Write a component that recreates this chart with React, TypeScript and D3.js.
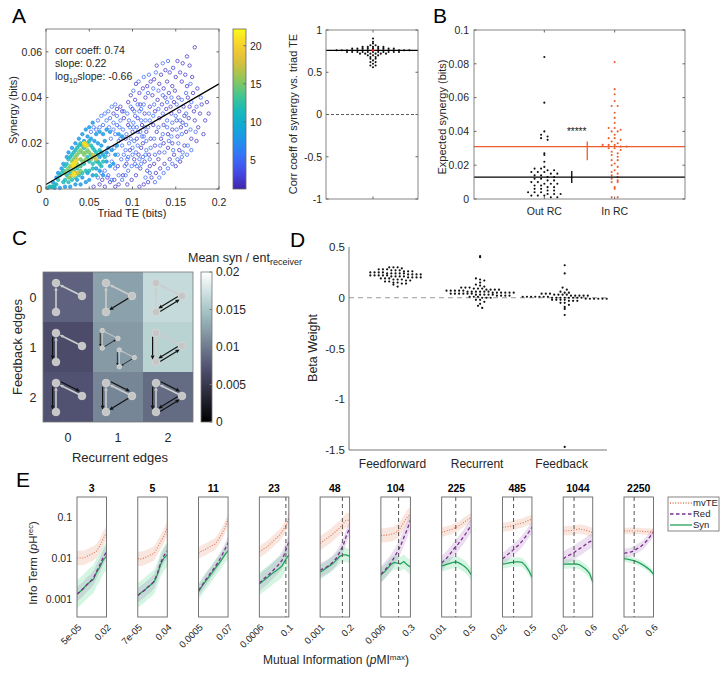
import React from 'react';
import * as d3 from 'd3';

const FONT = "'Liberation Sans', Arial, Helvetica, sans-serif";
const INK = '#262626';
const AXIS = '#666666';

// ---------------- Panel A : scatter (values x1000: [triad TE, synergy]) ----------------
const triadTeTicks = [0, 0.05, 0.1, 0.15, 0.2];
const synergyTicks = [0, 0.02, 0.04, 0.06];
const densityTicks = [5, 10, 15, 20];
const densityLevels = [2.2, 5.2, 8, 11.5, 15, 18, 21];
const scatterD1 = [[172,62],[163,58],[158,55],[166,54],[152,56],[147,53],[155,51],[161,50],[169,49],[143,51],[150,49],[138,52],[133,50],[128,54],[125,48],[131,46],[140,47],[146,45],[157,47],[163,45],[175,44],[180,37],[186,38],[178,33],[184,30],[171,34],[165,31],[159,36],[153,40],[148,38],[142,42],[136,44],[121,47],[117,45],[112,44],[108,42],[104,46],[115,40],[123,41],[129,39],[134,37],[139,35],[145,33],[151,30],[156,27],[162,25],[168,22],[174,21],[160,19],[154,17],[148,15],[143,13],[137,11],[132,9],[127,7],[122,5],[118,3],[113,2],[108,1],[155,12],[150,10],[146,20],[141,24],[136,28],[131,31],[126,34],[120,36],[114,33],[109,37],[103,39],[98,41],[95,38],[100,35],[106,31],[111,28],[116,25],[121,22],[126,19],[131,16],[136,20],[141,18],[146,26],[152,23],[158,29],[164,40],[170,42],[176,27],[182,24],[188,33],[124,28],[119,15],[114,12],[109,9],[104,6],[99,4],[94,2],[110,18],[105,22],[100,25],[95,28],[90,31],[92,22],[97,17],[102,13],[107,15],[112,20],[117,8],[128,25],[133,22],[138,40],[144,36],[149,43],[154,34],[160,32],[166,36],[172,30],[130,13],[125,11],[120,10],[86,36],[88,34],[82,35],[78,33],[84,2],[89,6],[93,11],[83,10],[79,4],[55,1],[62,2],[68,1],[74,3],[80,1],[71,5],[65,4]];
const scatterD2 = [[101,43],[107,47],[113,49],[119,50],[127,51],[135,55],[141,56],[118,42],[124,44],[130,43],[135,41],[140,38],[145,40],[151,37],[157,39],[162,42],[167,46],[103,32],[108,34],[113,37],[119,33],[125,37],[130,35],[135,33],[140,30],[146,29],[151,26],[157,24],[162,28],[167,26],[173,25],[96,30],[101,27],[106,25],[111,23],[116,21],[121,18],[126,15],[132,19],[137,16],[142,21],[147,17],[153,20],[158,16],[164,19],[168,17],[115,5],[120,7],[126,3],[131,5],[136,7],[141,9],[146,11],[152,13],[157,14],[163,15],[95,14],[100,15],[105,10],[110,11],[115,15],[120,13],[125,22],[130,27],[135,24],[140,27],[145,23],[150,32],[155,30],[162,33],[168,38],[174,36],[179,40],[60,30],[64,32],[68,33],[72,34],[76,36],[80,37],[70,30],[74,31],[78,29],[82,32],[86,30],[90,34],[94,33],[98,36],[102,34],[106,37],[110,35],[85,27],[89,26],[93,24],[97,27],[101,29],[105,27],[109,25],[113,23],[80,24],[84,21],[88,19],[92,17],[96,20],[100,18],[104,16],[108,13],[112,14],[116,17],[75,22],[79,18],[83,15],[87,13],[91,10],[95,8],[99,10],[103,11],[72,15],[76,12],[80,9],[84,6],[88,4],[92,6],[58,26],[62,27],[66,28],[55,27],[52,25],[68,8],[72,6],[76,4],[64,7],[60,5],[120,30],[118,27],[115,30],[124,32],[90,15],[86,22],[78,26],[73,27],[82,28],[94,13],[98,22],[102,21],[106,19],[110,30],[114,27]];
const scatterD3 = [[30,18],[34,20],[38,22],[42,24],[46,26],[50,27],[54,29],[58,24],[62,25],[66,24],[70,26],[74,25],[44,21],[48,23],[52,22],[56,21],[60,20],[64,19],[68,21],[72,18],[76,17],[80,15],[66,15],[62,14],[70,12],[74,10],[78,11],[58,9],[62,8],[66,6],[54,6],[50,4],[46,3],[40,2],[34,2],[28,1],[22,1],[16,0.5],[10,0.5],[6,1],[8,3],[12,5],[14,7],[18,9],[20,11],[24,14],[26,16],[36,4],[42,5],[48,7],[70,16],[82,19],[84,24],[88,23]];
const scatterD4 = [[14,4],[16,6],[18,7],[20,8],[22,10],[24,11],[26,13],[28,14],[30,15],[32,16],[34,17],[36,18],[38,19],[40,20],[42,19],[44,18],[46,19],[48,20],[50,21],[52,19],[54,18],[56,17],[58,16],[60,15],[62,17],[64,16],[66,12],[68,14],[50,12],[54,11],[58,12],[62,11],[46,8],[50,8],[54,9],[58,6],[42,7],[38,6],[34,5],[30,4],[26,3],[22,4],[20,3],[24,6],[28,7],[32,8],[36,9],[40,10],[44,11],[48,14],[52,15],[56,14],[60,12],[64,10],[12,2],[10,2],[8,1],[4,1],[2,0.5]];
const scatterD5 = [[22,7],[24,8],[26,9],[28,10],[30,12],[32,13],[34,14],[36,15],[38,16],[40,17],[42,16],[44,15],[46,16],[48,17],[50,16],[40,13],[42,12],[44,12],[46,13],[36,11],[38,10],[32,9],[34,10],[30,8],[26,5],[28,5],[38,7],[40,8],[52,13],[54,14]];
const scatterD6 = [[30,10],[32,11],[34,12],[36,13],[44,19],[46,20],[48,19],[54,15],[56,14],[58,13],[34,7],[36,7],[30,6]];
const scatterD7 = [[31,11],[33,11],[32,10],[34,12],[44,20],[46,19],[32,7],[33,6]];
const regressionSlope = 0.22;
const regressionIntercept = 0.002;

// ---------------- Panel A right ----------------
const corrTicks = [1, 0.5, 0, -0.5, -1];
const corrCoeffs = [0.90,0.86,0.84,0.82,0.82,0.80,0.80,0.80,0.80,0.80,0.78,0.78,0.78,0.78,0.78,0.78,0.78,0.78,0.78,0.76,0.76,0.76,0.76,0.76,0.76,0.76,0.76,0.76,0.76,0.76,0.76,0.76,0.76,0.76,0.74,0.74,0.74,0.74,0.74,0.74,0.74,0.74,0.74,0.74,0.74,0.72,0.72,0.72,0.72,0.72,0.72,0.70,0.70,0.70,0.68,0.68,0.66,0.66,0.64,0.62,0.62,0.60,0.58,0.58,0.56];
const corrMean = 0.76;

// ---------------- Panel B ----------------
const bCategories = ['Out RC', 'In RC'];
const bTicks = [0, 0.02, 0.04, 0.06, 0.08, 0.1];
const outRC = [0.084,0.057,0.040,0.038,0.037,0.036,0.035,0.027,0.026,0.022,0.019,0.018,0.018,0.017,0.017,0.016,0.016,0.016,0.015,0.015,0.014,0.014,0.013,0.013,0.012,0.012,0.011,0.011,0.010,0.010,0.009,0.009,0.009,0.008,0.008,0.007,0.007,0.006,0.006,0.005,0.005,0.004,0.004,0.004,0.003,0.003,0.003,0.002,0.002,0.002,0.001,0.001];
const inRC = [0.081,0.065,0.062,0.058,0.055,0.055,0.051,0.048,0.045,0.042,0.042,0.041,0.040,0.040,0.038,0.036,0.036,0.035,0.034,0.033,0.032,0.032,0.032,0.031,0.031,0.030,0.030,0.029,0.028,0.027,0.026,0.025,0.023,0.023,0.021,0.020,0.019,0.017,0.016,0.015,0.014,0.013,0.012,0.011,0.010,0.010,0.007,0.006,0.001,0.001];
const outRCMean = 0.013;
const inRCMean = 0.031;
const outRCErr = [0.0095, 0.0165];
const inRCErr = [0.023, 0.034];
const sigStars = '*****';
const sigLevel = 0.041;

// ---------------- Panel C ----------------
const edgeCounts = [0, 1, 2];
const meanSynRatio = [
  [0.0084, 0.0125, 0.0167],
  [0.0068, 0.0120, 0.0160],
  [0.0073, 0.0107, 0.0090],
];
const ratioTicks = [0, 0.005, 0.01, 0.015, 0.02];

// ---------------- Panel D ----------------
const dCategories = ['Feedforward', 'Recurrent', 'Feedback'];
const betaTicks = [0.5, 0, -0.5, -1, -1.5];
const betaFF = [0.30,0.30,0.30,0.29,0.28,0.28,0.28,0.27,0.27,0.27,0.26,0.26,0.26,0.25,0.25,0.25,0.25,0.24,0.24,0.24,0.24,0.24,0.23,0.23,0.23,0.23,0.22,0.22,0.22,0.22,0.22,0.21,0.21,0.21,0.21,0.20,0.20,0.20,0.20,0.19,0.19,0.19,0.18,0.18,0.18,0.17,0.17,0.16,0.16,0.15,0.15,0.14,0.14,0.13,0.11];
const betaRec = [0.41,0.40,0.19,0.18,0.17,0.15,0.13,0.12,0.11,0.10,0.10,0.10,0.09,0.09,0.09,0.08,0.08,0.08,0.08,0.07,0.07,0.07,0.07,0.07,0.06,0.06,0.06,0.06,0.06,0.06,0.05,0.05,0.05,0.05,0.05,0.05,0.04,0.04,0.04,0.04,0.04,0.04,0.03,0.03,0.03,0.03,0.03,0.02,0.02,0.02,0.02,0.01,0.01,0.01,0.00,0.00,0.00,-0.02,-0.02,-0.04,-0.06,-0.08,-0.10];
const betaFB = [0.32,0.24,0.10,0.08,0.06,0.05,0.05,0.04,0.04,0.04,0.03,0.03,0.03,0.03,0.02,0.02,0.02,0.02,0.02,0.01,0.01,0.01,0.01,0.01,0.01,0.01,0.00,0.00,0.00,0.00,0.00,0.00,0.00,0.00,-0.01,-0.01,-0.01,-0.01,-0.01,-0.01,-0.02,-0.02,-0.02,-0.02,-0.03,-0.03,-0.03,-0.05,-0.05,-0.07,-0.09,-0.11,-0.17,-1.47];

// ---------------- Panel E ----------------
const eNeurons = ['3', '5', '11', '23', '48', '104', '225', '485', '1044', '2250'];
const eTickLo = ['5e-05', '7e-05', '0.0005', '0.0006', '0.001', '0.006', '0.01', '0.02', '0.02', '0.02'];
const eTickHi = ['0.02', '0.04', '0.07', '0.1', '0.2', '0.3', '0.5', '0.5', '0.6', '0.6'];
const eDashPos = [null, null, null, 8.1, 6.8, 5.4, 4.3, 3.4, 3.3, 3.1];
const eYTicks = [0.1, 0.01, 0.001];
const mvTE = [
  [0.010,0.010,0.010,0.011,0.012,0.013,0.015,0.020,0.030,0.042],
  [0.0095,0.0095,0.010,0.011,0.012,0.013,0.018,0.025,0.035,0.055],
  [0.013,0.015,0.016,0.018,0.020,0.022,0.028,0.038,0.055,0.090],
  [0.014,0.016,0.018,0.021,0.025,0.030,0.035,0.045,0.060,0.095],
  [0.023,0.026,0.030,0.034,0.040,0.047,0.055,0.070,0.085,0.085],
  [0.036,0.036,0.037,0.038,0.040,0.045,0.055,0.075,0.100,0.120],
  [0.043,0.045,0.048,0.050,0.055,0.060,0.068,0.078,0.088,0.100],
  [0.057,0.058,0.060,0.062,0.066,0.070,0.072,0.078,0.084,0.090],
  [0.046,0.047,0.047,0.048,0.050,0.052,0.050,0.048,0.045,0.042],
  [0.046,0.046,0.047,0.046,0.046,0.046,0.045,0.045,0.044,0.044],
];
const redTerm = [
  [0.0013,0.0015,0.0018,0.0022,0.0026,0.0032,0.0047,0.0068,0.0105,0.0140],
  [0.0012,0.0014,0.0016,0.0019,0.0022,0.0027,0.0042,0.0078,0.0115,0.0150],
  [0.0016,0.0021,0.0028,0.0036,0.0047,0.0060,0.0080,0.0110,0.0160,0.0240],
  [0.0024,0.0029,0.0034,0.0040,0.0048,0.0058,0.0070,0.0090,0.0150,0.0250],
  [0.0050,0.0055,0.0060,0.0068,0.0080,0.0100,0.0140,0.0200,0.0350,0.0550],
  [0.0040,0.0048,0.0060,0.0075,0.0100,0.0140,0.0200,0.0320,0.0500,0.0850],
  [0.0075,0.0090,0.0110,0.0140,0.0180,0.0220,0.0280,0.0360,0.0480,0.0640],
  [0.0095,0.0110,0.0130,0.0150,0.0180,0.0210,0.0260,0.0330,0.0430,0.0570],
  [0.0095,0.0110,0.0120,0.0130,0.0150,0.0170,0.0190,0.0220,0.0250,0.0270],
  [0.0130,0.0135,0.0140,0.0150,0.0170,0.0190,0.0220,0.0270,0.0340,0.0430],
];
const synTerm = [
  [0.0013,0.0015,0.0018,0.0022,0.0026,0.0030,0.0045,0.0060,0.0090,0.0110],
  [0.0012,0.0014,0.0016,0.0019,0.0022,0.0026,0.0040,0.0070,0.0100,0.0120],
  [0.0015,0.0020,0.0026,0.0033,0.0042,0.0055,0.0070,0.0090,0.0120,0.0150],
  [0.0023,0.0027,0.0031,0.0036,0.0042,0.0048,0.0055,0.0065,0.0090,0.0120],
  [0.0045,0.0050,0.0058,0.0065,0.0075,0.0090,0.0110,0.0120,0.0120,0.0110],
  [0.0038,0.0045,0.0055,0.0068,0.0078,0.0075,0.0072,0.0082,0.0068,0.0060],
  [0.0064,0.0068,0.0072,0.0076,0.0080,0.0078,0.0070,0.0062,0.0052,0.0039],
  [0.0071,0.0073,0.0076,0.0078,0.0080,0.0080,0.0078,0.0065,0.0050,0.0034],
  [0.0071,0.0071,0.0072,0.0071,0.0072,0.0068,0.0060,0.0052,0.0042,0.0026],
  [0.0097,0.0094,0.0090,0.0086,0.0080,0.0074,0.0066,0.0058,0.0050,0.0040],
];
const mvTEBand = [1.5, 1.5, 1.4, 1.4, 1.5, 1.5, 1.3, 1.3, 1.3, 1.2];
const redBand = [1.5, 1.5, 1.4, 1.6, 1.5, 1.6, 1.5, 1.4, 1.5, 1.3];
const synBand = [2.2, 2.0, 1.6, 1.9, 1.5, 1.5, 1.4, 1.3, 1.3, 1.2];
const eLegend = ['mvTE', 'Red', 'Syn'];

// ---------------- colour maps ----------------
const parulaStops = ['#3e26a8', '#4747ea', '#3b6efe', '#1e92eb', '#0fabd5', '#14bbb5', '#50c88a', '#99c84e', '#e0bc3c', '#fcce2e', '#f9fb15'];
const parula = d3.scaleSequential(d3.interpolateRgbBasis(parulaStops)).domain([1.2, 22.2]);
const boneR = d3.scaleLinear().domain([0, 0.746032, 1]).range([0, 0.652778, 1]);
const boneG = d3.scaleLinear().domain([0, 0.365079, 0.746032, 1]).range([0, 0.319444, 0.777778, 1]);
const boneB = d3.scaleLinear().domain([0, 0.365079, 1]).range([0, 0.444444, 1]);
const bone = (t: number) => d3.rgb(boneR(t) * 255, boneG(t) * 255, boneB(t) * 255).formatHex();

function spread(values: number[], binW: number, step: number) {
  const groups = d3.groups(values, (v) => Math.round(v / binW));
  const out: { v: number; off: number }[] = [];
  groups.forEach(([, arr]) => {
    const n = arr.length;
    arr.forEach((v, j) => out.push({ v, off: (j - (n - 1) / 2) * step }));
  });
  return out;
}

function Arrow({ a, b, color, w, head, s1, s2 }: any) {
  const dx = b[0] - a[0], dy = b[1] - a[1];
  const L = Math.hypot(dx, dy);
  const ux = dx / L, uy = dy / L;
  const sx = a[0] + ux * s1, sy = a[1] + uy * s1;
  const ex = b[0] - ux * s2, ey = b[1] - uy * s2;
  const bx = ex - ux * head, by = ey - uy * head;
  const hw = head * 0.45;
  return (
    <g>
      <line x1={sx} y1={sy} x2={bx} y2={by} stroke={color} strokeWidth={w} />
      <polygon points={`${ex},${ey} ${bx - uy * hw},${by + ux * hw} ${bx + uy * hw},${by - ux * hw}`} fill={color} />
    </g>
  );
}

function Triad({ ox, oy, s, fb, rec, rev }: any) {
  const T = [ox + 13 * s, oy + 11 * s];
  const B = [ox + 13 * s, oy + 40 * s];
  const R = [ox + 39 * s, oy + 24 * s];
  const gray = '#cdcdcd';
  const blk = '#111';
  const nr = 3.8 * s;
  const off = (p: number[], q: number[], d: number) => {
    const dx = q[0] - p[0], dy = q[1] - p[1];
    const L = Math.hypot(dx, dy);
    const px = -dy / L * d, py = dx / L * d;
    return [[p[0] + px, p[1] + py], [q[0] + px, q[1] + py]];
  };
  const items: any[] = [];
  items.push(<Arrow key="g1" a={R} b={T} color={gray} w={1.6 * s} head={4 * s} s1={nr} s2={nr} />);
  items.push(<Arrow key="g2" a={B} b={T} color={gray} w={1.6 * s} head={4 * s} s1={nr} s2={nr} />);
  if (fb >= 1) {
    const [p, q] = off(T, B, 3.4 * s);
    items.push(<Arrow key="f1" a={p} b={q} color={blk} w={1.0 * s + 0.2} head={4.2 * s} s1={nr} s2={nr * 0.6} />);
  }
  if (fb >= 2) {
    const [p, q] = off(T, R, -3.2 * s);
    items.push(<Arrow key="f2" a={p} b={q} color={blk} w={1.0 * s + 0.2} head={4.2 * s} s1={nr} s2={nr} />);
  }
  if (rec === 1) {
    if (rev) items.push(<Arrow key="r1" a={B} b={R} color={blk} w={1.0 * s + 0.2} head={4.2 * s} s1={nr} s2={nr} />);
    else items.push(<Arrow key="r1" a={R} b={B} color={blk} w={1.0 * s + 0.2} head={4.2 * s} s1={nr} s2={nr} />);
  }
  if (rec === 2) {
    const [p1, q1] = off(R, B, 1.8 * s);
    const [p2, q2] = off(B, R, 1.8 * s);
    items.push(<Arrow key="r1" a={p1} b={q1} color={blk} w={0.9 * s + 0.2} head={4.2 * s} s1={nr} s2={nr} />);
    items.push(<Arrow key="r2" a={p2} b={q2} color={blk} w={0.9 * s + 0.2} head={4.2 * s} s1={nr} s2={nr} />);
  }
  [T, B, R].forEach((p, i) => items.push(<circle key={'n' + i} cx={p[0]} cy={p[1]} r={nr} fill="#c6c6c6" stroke="#d8d8d8" strokeWidth={0.8} />));
  return <g>{items}</g>;
}

export default function App() {
  // ---------- Panel A ----------
  const ax = d3.scaleLinear().domain([0, 0.2]).range([46, 219]);
  const ay = d3.scaleLinear().domain([0, 0.07]).range([189, 29]);
  const scatterGroups = [scatterD1, scatterD2, scatterD3, scatterD4, scatterD5, scatterD6, scatterD7];

  const arx = 373;
  const ary = d3.scaleLinear().domain([-1, 1]).range([199, 30]);
  const corrPts = spread(corrCoeffs, 0.02, 5.2);

  // ---------- Panel B ----------
  const bx = d3.scaleLinear().domain([0, 3]).range([474, 685]);
  const by = d3.scaleLinear().domain([0, 0.1]).range([199, 30]);
  const outPts = spread(outRC, 0.002, 6.5);
  const inPts = spread(inRC, 0.002, 6);
  const orange = '#ec5b2b';

  // ---------- Panel C ----------
  const cx = d3.scaleBand<number>().domain(edgeCounts).range([43, 193]);
  const cy = d3.scaleBand<number>().domain(edgeCounts).range([272, 422]);
  const cbar = d3.scaleLinear().domain([0, 0.02]).range([422, 272]);

  // ---------- Panel D ----------
  const dx = d3.scaleLinear().domain([0.45, 3.5]).range([349, 607]);
  const dy = d3.scaleLinear().domain([-1.5, 0.5]).range([450, 247]);
  const dGroups = [betaFF, betaRec, betaFB].map((g) => spread(g, 0.03, 4.2));

  // ---------- Panel E ----------
  const eLeft = d3.scaleLinear().domain([0, 9]).range([77, 624]);
  const eW = 29.5;
  const ey = d3.scaleLog().domain([Math.pow(10, -3.45), Math.pow(10, -0.5)]).range([617, 497]);
  const eColors = { mv: '#e0734f', red: '#7e2f8e', syn: '#21a35a' };

  const tickLen = 2.5;

  return (
    <svg width={722} height={673} style={{ position: 'absolute', left: 0, top: 0, fontFamily: FONT }}>
      <defs>
        <linearGradient id="parulaGrad" x1="0" y1="1" x2="0" y2="0">
          {d3.range(0, 1.0001, 0.05).map((t) => (
            <stop key={t} offset={t} stopColor={parula(1.2 + t * 21)} />
          ))}
        </linearGradient>
        <linearGradient id="boneGrad" x1="0" y1="1" x2="0" y2="0">
          {d3.range(0, 1.0001, 0.05).map((t) => (
            <stop key={t} offset={t} stopColor={bone(t)} />
          ))}
        </linearGradient>
        {eNeurons.map((_, i) => (
          <clipPath id={'eclip' + i} key={i}>
            <rect x={eLeft(i)} y={497} width={eW} height={120} />
          </clipPath>
        ))}
      </defs>
      <rect x={0} y={0} width={722} height={673} fill="#fff" />

      {/* ================= Panel A ================= */}
      <text x={12} y={23} fontSize={21} fill="#000">A</text>
      {scatterGroups.map((g, gi) =>
        g.map((p, i) => {
          const c = parula(densityLevels[gi]);
          return (
            <circle key={gi + '-' + i} cx={ax(p[0] / 1000)} cy={ay(p[1] / 1000)} r={1.7}
              fill={gi >= 2 ? c : 'none'} fillOpacity={gi >= 2 ? 0.8 : 0} stroke={c} strokeWidth={0.75} />
          );
        })
      )}
      <line x1={ax(0)} y1={ay(regressionIntercept)} x2={ax(0.2)} y2={ay(regressionIntercept + regressionSlope * 0.2)} stroke="#000" strokeWidth={1.2} />
      <rect x={46} y={29} width={173} height={160} fill="none" stroke={AXIS} strokeWidth={0.8} />
      {triadTeTicks.map((t) => (
        <g key={'ax' + t}>
          <line x1={ax(t)} x2={ax(t)} y1={189} y2={189 - tickLen} stroke={AXIS} />
          <line x1={ax(t)} x2={ax(t)} y1={29} y2={29 + tickLen} stroke={AXIS} />
          <text x={ax(t)} y={206} fontSize={10.5} fill={INK} textAnchor="middle">{t}</text>
        </g>
      ))}
      {synergyTicks.map((t) => (
        <g key={'ay' + t}>
          <line x1={46} x2={46 + tickLen} y1={ay(t)} y2={ay(t)} stroke={AXIS} />
          <line x1={219} x2={219 - tickLen} y1={ay(t)} y2={ay(t)} stroke={AXIS} />
          <text x={42} y={ay(t) + 3.8} fontSize={10.5} fill={INK} textAnchor="end">{t}</text>
        </g>
      ))}
      <text x={132} y={217} fontSize={11} fill={INK} textAnchor="middle">Triad TE (bits)</text>
      <text transform="translate(17,110) rotate(-90)" fontSize={11} fill={INK} textAnchor="middle">Synergy (bits)</text>
      <text x={55} y={54} fontSize={10.5} fill={INK}>corr coeff: 0.74</text>
      <text x={55} y={67} fontSize={10.5} fill={INK}>slope: 0.22</text>
      <text x={55} y={80} fontSize={10.5} fill={INK}>log<tspan dy={3} fontSize={7.5}>10</tspan><tspan dy={-3}>slope: -0.66</tspan></text>
      {/* colorbar */}
      <rect x={233} y={29} width={13} height={160} fill="url(#parulaGrad)" stroke={AXIS} strokeWidth={0.8} />
      {densityTicks.map((t) => {
        const yy = 189 - ((t - 1.2) / 21) * 160;
        return (
          <g key={'cb' + t}>
            <line x1={246} x2={243.5} y1={yy} y2={yy} stroke={AXIS} />
            <text x={250} y={yy + 3.8} fontSize={10.5} fill={INK}>{t}</text>
          </g>
        );
      })}

      {/* ================= Panel A right ================= */}
      <line x1={326} x2={418} y1={ary(0)} y2={ary(0)} stroke="#333" strokeDasharray="3,2" strokeWidth={0.8} />
      {corrPts.map((p, i) => (
        <circle key={'cc' + i} cx={arx + p.off} cy={ary(p.v)} r={1.05} fill="#111" />
      ))}
      <line x1={326} x2={418} y1={ary(corrMean)} y2={ary(corrMean)} stroke="#000" strokeWidth={1.3} />
      <circle cx={arx} cy={ary(corrMean)} r={1.4} fill="#e02020" />
      <rect x={326} y={30} width={92} height={169} fill="none" stroke={AXIS} strokeWidth={0.8} />
      <line x1={arx} x2={arx} y1={199} y2={199 - tickLen} stroke={AXIS} />
      <line x1={arx} x2={arx} y1={30} y2={30 + tickLen} stroke={AXIS} />
      {corrTicks.map((t) => (
        <g key={'ct' + t}>
          <line x1={326} x2={326 + tickLen} y1={ary(t)} y2={ary(t)} stroke={AXIS} />
          <line x1={418} x2={418 - tickLen} y1={ary(t)} y2={ary(t)} stroke={AXIS} />
          <text x={322} y={ary(t) + 3.8} fontSize={10.5} fill={INK} textAnchor="end">{t}</text>
        </g>
      ))}
      <text transform="translate(297,114) rotate(-90)" fontSize={11} fill={INK} textAnchor="middle">Corr coeff of synergy vs. triad TE</text>

      {/* ================= Panel B ================= */}
      <text x={433} y={23} fontSize={21} fill="#000">B</text>
      {outPts.map((p, i) => (
        <circle key={'o' + i} cx={bx(1) + p.off} cy={by(p.v)} r={1.05} fill="#111" />
      ))}
      {inPts.map((p, i) => (
        <circle key={'i' + i} cx={bx(2) + p.off} cy={by(p.v)} r={1.05} fill={orange} />
      ))}
      <line x1={474} x2={685} y1={by(outRCMean)} y2={by(outRCMean)} stroke="#000" strokeWidth={1.3} />
      <line x1={474} x2={685} y1={by(inRCMean)} y2={by(inRCMean)} stroke={orange} strokeWidth={1.3} />
      <line x1={bx(1.39)} x2={bx(1.39)} y1={by(outRCErr[0])} y2={by(outRCErr[1])} stroke="#000" strokeWidth={1.3} />
      <line x1={bx(1.61)} x2={bx(1.61)} y1={by(inRCErr[0])} y2={by(inRCErr[1])} stroke={orange} strokeWidth={1.3} />
      <text x={bx(1.46)} y={by(sigLevel) + 5} fontSize={10} fill="#111" textAnchor="middle">{sigStars}</text>
      <rect x={474} y={30} width={211} height={169} fill="none" stroke={AXIS} strokeWidth={0.8} />
      {[1, 2].map((c) => (
        <g key={'bxt' + c}>
          <line x1={bx(c)} x2={bx(c)} y1={199} y2={199 - tickLen} stroke={AXIS} />
          <line x1={bx(c)} x2={bx(c)} y1={30} y2={30 + tickLen} stroke={AXIS} />
          <text x={bx(c)} y={215} fontSize={10.5} fill={INK} textAnchor="middle">{bCategories[c - 1]}</text>
        </g>
      ))}
      {bTicks.map((t) => (
        <g key={'bt' + t}>
          <line x1={474} x2={474 + tickLen} y1={by(t)} y2={by(t)} stroke={AXIS} />
          <line x1={685} x2={685 - tickLen} y1={by(t)} y2={by(t)} stroke={AXIS} />
          <text x={469} y={by(t) + 3.8} fontSize={10.5} fill={INK} textAnchor="end">{t}</text>
        </g>
      ))}
      <text transform="translate(446,117) rotate(-90)" fontSize={11} fill={INK} textAnchor="middle">Expected synergy (bits)</text>

      {/* ================= Panel C ================= */}
      <text x={12} y={245} fontSize={21} fill="#000">C</text>
      {meanSynRatio.map((row, r) =>
        row.map((v, c) => (
          <rect key={'cell' + r + c} x={cx(c)} y={cy(r)} width={cx.bandwidth()} height={cy.bandwidth()} fill={bone(v / 0.02)} />
        ))
      )}
      {edgeCounts.map((fb) =>
        edgeCounts.map((rec) => {
          const ox = cx(rec)!, oy = cy(fb)!;
          if (fb === 1 && rec === 1) {
            return (
              <g key={'tr' + fb + rec}>
                <Triad ox={ox + 1.5} oy={oy + 2} s={0.6} fb={1} rec={1} rev={true} />
                <Triad ox={ox + 18.8} oy={oy + 21.6} s={0.58} fb={1} rec={1} rev={false} />
              </g>
            );
          }
          return <Triad key={'tr' + fb + rec} ox={ox} oy={oy} s={1} fb={fb} rec={rec} rev={false} />;
        })
      )}
      <rect x={43} y={272} width={150} height={150} fill="none" stroke="#777" strokeWidth={0.8} />
      {edgeCounts.map((e) => (
        <g key={'cl' + e}>
          <text x={33} y={cy(e)! + 25 + 4.5} fontSize={12.5} fill={INK} textAnchor="middle">{e}</text>
          <text x={cx(e)! + 25} y={442} fontSize={12.5} fill={INK} textAnchor="middle">{e}</text>
        </g>
      ))}
      <text transform="translate(22,347) rotate(-90)" fontSize={13} fill={INK} textAnchor="middle">Feedback edges</text>
      <text x={120} y={462} fontSize={13} fill={INK} textAnchor="middle">Recurrent edges</text>
      <rect x={201} y={272} width={11} height={150} fill="url(#boneGrad)" stroke="#777" strokeWidth={0.8} />
      {ratioTicks.map((t) => (
        <g key={'rt' + t}>
          <line x1={212} x2={209.5} y1={cbar(t)} y2={cbar(t)} stroke="#777" />
          <text x={216} y={cbar(t) + 4.3} fontSize={12} fill={INK}>{t}</text>
        </g>
      ))}
      <text x={188} y={262} fontSize={12.5} fill={INK}>Mean syn / ent<tspan dy={3} fontSize={9}>receiver</tspan></text>

      {/* ================= Panel D ================= */}
      <text x={290} y={247} fontSize={21} fill="#000">D</text>
      <line x1={349} x2={607} y1={dy(0)} y2={dy(0)} stroke="#999" strokeWidth={1.2} strokeDasharray="5,4" />
      {dGroups.map((g, gi) =>
        g.map((p, i) => (
          <circle key={'d' + gi + '-' + i} cx={dx(gi + 1) + p.off} cy={dy(p.v)} r={1.1} fill="#111" />
        ))
      )}
      <line x1={349} x2={349} y1={247} y2={450} stroke={AXIS} strokeWidth={0.9} />
      <line x1={349} x2={607} y1={450} y2={450} stroke={AXIS} strokeWidth={0.9} />
      {betaTicks.map((t) => (
        <text key={'dt' + t} x={345} y={dy(t) + 4} fontSize={11.5} fill={INK} textAnchor="end">{t}</text>
      ))}
      {dCategories.map((c, i) => (
        <text key={c} x={dx(i + 1) - 3} y={468} fontSize={12} fill={INK} textAnchor="middle">{c}</text>
      ))}
      <text transform="translate(317,348) rotate(-90)" fontSize={12.5} fill={INK} textAnchor="middle">Beta Weight</text>

      {/* ================= Panel E ================= */}
      <text x={16} y={487} fontSize={21} fill="#000">E</text>
      {eNeurons.map((n, i) => {
        const x0 = eLeft(i);
        const ex = d3.scaleLinear().domain([0, 9]).range([x0, x0 + eW]);
        const idx = d3.range(10);
        const line = (arr: number[]) => d3.line<number>().x((k) => ex(k)).y((k) => ey(arr[k]))(idx) as string;
        const band = (arr: number[], f: number) =>
          d3.area<number>().x((k) => ex(k)).y0((k) => ey(arr[k] / f)).y1((k) => ey(arr[k] * f))(idx) as string;
        return (
          <g key={'e' + i}>
            <g clipPath={`url(#eclip${i})`}>
              <path d={band(mvTE[i], mvTEBand[i])} fill={eColors.mv} fillOpacity={0.18} />
              <path d={band(redTerm[i], redBand[i])} fill="#9b59b6" fillOpacity={0.2} />
              <path d={band(synTerm[i], synBand[i])} fill="#2ecc71" fillOpacity={0.2} />
              <path d={line(mvTE[i])} fill="none" stroke={eColors.mv} strokeWidth={1.1} strokeDasharray="1,1.6" />
              <path d={line(synTerm[i])} fill="none" stroke={eColors.syn} strokeWidth={1.3} />
              <path d={line(redTerm[i])} fill="none" stroke={eColors.red} strokeWidth={1.3} strokeDasharray="3.5,2.5" />
              {eDashPos[i] !== null && (
                <line x1={ex(eDashPos[i] as number)} x2={ex(eDashPos[i] as number)} y1={497} y2={617} stroke="#555" strokeWidth={1} strokeDasharray="4,3" />
              )}
            </g>
            <rect x={x0} y={497} width={eW} height={120} fill="none" stroke="#666" strokeWidth={0.9} />
            <text x={x0 + eW / 2} y={492} fontSize={10.5} fontWeight="bold" fill="#000" textAnchor="middle">{n}</text>
            <text transform={`translate(${x0 + 5},${628}) rotate(-45)`} fontSize={9.5} fill={INK} textAnchor="end">{eTickLo[i]}</text>
            <text transform={`translate(${x0 + eW + 5},${628}) rotate(-45)`} fontSize={9.5} fill={INK} textAnchor="end">{eTickHi[i]}</text>
          </g>
        );
      })}
      {eYTicks.map((t) => (
        <text key={'ey' + t} x={72} y={ey(t) + 4} fontSize={10.5} fill={INK} textAnchor="end">{t}</text>
      ))}
      <text transform="translate(37,563) rotate(-90)" fontSize={11.5} fill={INK} textAnchor="middle">
        Info Term (<tspan fontStyle="italic">p</tspan>H<tspan dy={-4} fontSize={7.5}>rec</tspan><tspan dy={4}>)</tspan>
      </text>
      <text x={336} y={664} fontSize={12} fill={INK} textAnchor="middle">
        Mutual Information (<tspan fontStyle="italic">p</tspan>MI<tspan dy={-4} fontSize={8}>max</tspan><tspan dy={4}>)</tspan>
      </text>
      {/* legend */}
      <rect x={668} y={497} width={51} height={34} fill="#fff" stroke="#666" strokeWidth={0.8} />
      {eLegend.map((l, i) => {
        const yy = 503 + i * 11;
        const col = i === 0 ? eColors.mv : i === 1 ? eColors.red : eColors.syn;
        const dash = i === 0 ? '1,1.6' : i === 1 ? '3.5,2.5' : undefined;
        return (
          <g key={l}>
            <line x1={670} x2={692} y1={yy} y2={yy} stroke={col} strokeWidth={1.3} strokeDasharray={dash} />
            <text x={693} y={yy + 3.3} fontSize={9.5} fill={INK}>{l}</text>
          </g>
        );
      })}
    </svg>
  );
}
